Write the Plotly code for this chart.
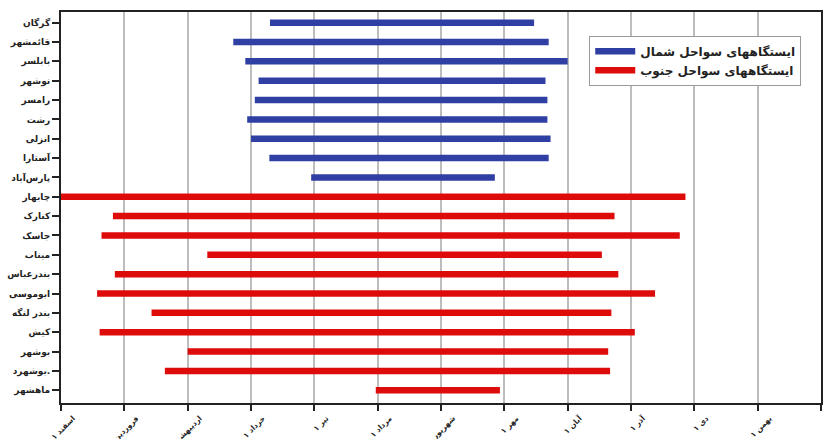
import plotly.graph_objects as go

# Stations (top to bottom)
north_stations = ["گرگان", "قائمشهر", "بابلسر", "نوشهر", "رامسر", "رشت", "انزلی", "آستارا", "پارس‌آباد"]
north_start = [3.30, 2.72, 2.91, 3.12, 3.06, 2.94, 3.00, 3.29, 3.95]
north_end = [7.47, 7.70, 8.00, 7.65, 7.68, 7.68, 7.73, 7.70, 6.85]

south_stations = ["چابهار", "کنارک", "جاسک", "میناب", "بندرعباس", "ابوموسی", "بندر لنگه", "کیش", "بوشهر", "بوشهرد.", "ماهشهر"]
south_start = [0.00, 0.82, 0.64, 2.31, 0.85, 0.57, 1.43, 0.61, 2.00, 1.64, 4.97]
south_end = [9.86, 8.74, 9.77, 8.54, 8.80, 9.38, 8.69, 9.06, 8.64, 8.67, 6.93]

month_ticks = [0, 1, 2, 3, 4, 5, 6, 7, 8, 9, 10, 11, 12]
month_labels = ["۱ اسفند", "۱ فروردین", "۱ اردیبهشت", "۱ خرداد", "۱ تیر", "۱ مرداد",
                "۱ شهریور", "۱ مهر", "۱ آبان", "۱ آذر", "۱ دی", "۱ بهمن", "۱ اسفند"]

series_names = ["ایستگاههای سواحل شمال", "ایستگاههای سواحل جنوب"]
colors = ["#2F3FA3", "#DE0B0B"]


def segments(names, starts, ends):
    xs, ys = [], []
    for n, s, e in zip(names, starts, ends):
        xs += [s, e, None]
        ys += [n, n, None]
    return xs, ys


fig = go.Figure()
for name, color, (st, s0, s1) in zip(series_names, colors,
                                      [(north_stations, north_start, north_end),
                                       (south_stations, south_start, south_end)]):
    xs, ys = segments(st, s0, s1)
    fig.add_trace(go.Scatter(x=xs, y=ys, mode="lines", name=name,
                             line=dict(color=color, width=6.5),
                             connectgaps=False, hoverinfo="skip", cliponaxis=False))

all_stations = north_stations + south_stations
font_family = "DejaVu Sans"

fig.update_layout(
    width=829, height=439,
    margin=dict(l=61, r=8, t=12, b=36, autoexpand=False),
    paper_bgcolor="white", plot_bgcolor="white",
    font=dict(family=font_family, size=10, color="#222"),
    showlegend=True,
    legend=dict(x=0.974, y=0.939, xanchor="right", yanchor="top",
                bgcolor="white", bordercolor="#9a9a9a", borderwidth=1,
                font=dict(family=font_family, size=12, color="#222", weight="bold"),
                itemwidth=40, tracegroupgap=0),
)
fig.update_xaxes(
    range=[0, 12], tickmode="array", tickvals=month_ticks, ticktext=month_labels,
    tickangle=-45, ticks="outside", ticklen=6, tickwidth=1.5, tickcolor="#222",
    showline=True, linecolor="#222", linewidth=2, mirror=True,
    showgrid=True, gridcolor="#BDBDBD", gridwidth=1.5, zeroline=False,
    tickfont=dict(family=font_family, size=7.5, color="#222", weight="bold"),
    ticklabelshift=12, ticklabelstandoff=0,
    automargin=False,
)
fig.update_yaxes(
    type="category", categoryorder="array", categoryarray=all_stations,
    range=[19.66, -0.55], ticks="outside", ticklen=7, tickwidth=1.5, tickcolor="#222",
    showline=True, linecolor="#222", linewidth=2, mirror=True,
    showgrid=False, zeroline=False,
    tickfont=dict(family=font_family, size=9, color="#222", weight="bold"),
    automargin=False,
)

fig.write_html("out.html", config={"displayModeBar": False},
               post_script="document.body.style.margin='0';document.body.style.overflow='hidden';")
